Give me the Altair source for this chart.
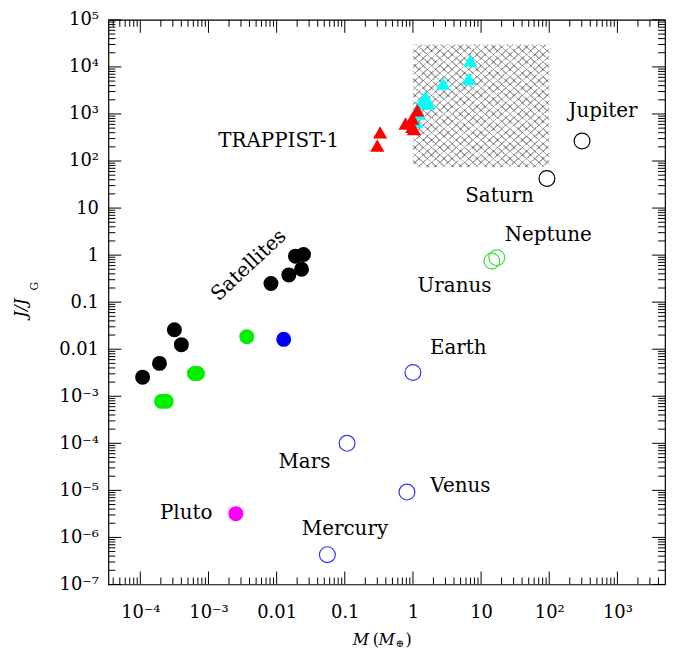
import altair as alt
import pandas as pd

# ---------------- data ----------------
# Satellites (black: Saturn/Jupiter moons), green: Uranus/Neptune moons
sat_black_m = [1.08e-4, 1.91e-4, 3.16e-4, 4.0e-4, 8.26e-3, 0.0151, 0.0189, 0.0248, 0.0232]
sat_black_j = [2.55e-3, 5.0e-3, 0.026, 0.0125, 0.25, 0.38, 0.95, 1.03, 0.5]
sat_green_m = [2.04e-4, 2.4e-4, 6.2e-4, 6.9e-4, 3.65e-3]
sat_green_j = [7.8e-4, 7.8e-4, 3.05e-3, 3.05e-3, 0.0185]
moon_m = [0.0127]
moon_j = [0.0162]
pluto_m = [2.52e-3]
pluto_j = [3.2e-6]

terr_names = ["Mercury", "Venus", "Earth", "Mars"]
terr_m = [0.0555, 0.817, 1.0, 0.108]
terr_j = [4.3e-7, 9.2e-6, 3.2e-3, 1.0e-4]
ice_names = ["Uranus", "Neptune"]
ice_m = [14.4, 17.0]
ice_j = [0.75, 0.88]
gas_names = ["Saturn", "Jupiter"]
gas_m = [92.5, 303.0]
gas_j = [42.5, 266.0]

trap_m = [0.30, 0.33, 0.78, 0.98, 0.98, 1.03, 1.16]
trap_j = [212, 405, 627, 533, 800, 475, 1200]
cyan_m = [6.95, 6.57, 2.77, 1.53, 1.71, 1.29, 1.22, 1.10]
cyan_j = [13700, 5600, 4400, 2300, 1660, 1660, 1020, 680]

box_m = [1.0, 100.0]
box_j = [74.0, 3.0e4]

label_text = ["TRAPPIST-1", "Jupiter", "Saturn", "Neptune", "Uranus",
              "Earth", "Mars", "Venus", "Pluto", "Mercury"]
label_m = [0.0107, 614, 18.6, 96.7, 4.08, 4.62, 0.0256, 4.97, 4.7e-4, 0.1007]
label_j = [270, 1164, 17.7, 2.69, 0.221, 0.0108, 4.0e-5, 1.26e-5, 3.3e-6, 1.53e-6]
sat_label = ["Satellites"]
sat_label_m = [3.9e-3]
sat_label_j = [0.61]

x_tick_labels = ["10⁻⁴", "10⁻³", "0.01", "0.1", "1", "10", "10²", "10³"]
y_tick_labels = ["10⁻⁷", "10⁻⁶", "10⁻⁵", "10⁻⁴", "10⁻³", "0.01", "0.1",
                 "1", "10", "10²", "10³", "10⁴", "10⁵"]

XMIN, XMAX = 3.4e-5, 5000.0
YMIN, YMAX = 1e-7, 1e5
x_major = [10.0 ** k for k in range(-4, 4)]
x_minor = [m * 10.0 ** k for k in range(-5, 4) for m in range(2, 10)
           if XMIN < m * 10.0 ** k < XMAX]
y_major = [10.0 ** k for k in range(-7, 6)]
y_minor = [m * 10.0 ** k for k in range(-7, 5) for m in range(2, 10)]

# ---------------- styling ----------------
W, H = 560, 568
FONT = "DejaVu Serif"
MAJ, MIN = 13, 7

xs = alt.Scale(type="log", domain=[XMIN, XMAX], nice=False)
ys = alt.Scale(type="log", domain=[YMIN, YMAX], nice=False)

def arr_expr(labels, offset):
    items = ",".join("'" + s + "'" for s in labels)
    return "[" + items + "][round(log(datum.value)/LN10)+" + str(offset) + "]"

xaxis = alt.Axis(values=x_major, labelExpr=arr_expr(x_tick_labels, 4), ticks=False,
                 domain=False, grid=False, title=None, labelFont=FONT, labelFontSize=18,
                 labelColor="black", labelPadding=19, labelOverlap=False, labelFlush=False)
yaxis = alt.Axis(values=y_major, labelExpr=arr_expr(y_tick_labels, 7), ticks=False,
                 domain=False, grid=False, title=None, labelFont=FONT, labelFontSize=18,
                 labelColor="black", labelPadding=10, labelOverlap=False, labelFlush=False)

def X(f):
    return alt.X(f + ":Q", scale=xs, axis=xaxis)

def Y(f):
    return alt.Y(f + ":Q", scale=ys, axis=yaxis)

def df(m, j, **extra):
    d = {"m": m, "j": j}
    d.update(extra)
    return pd.DataFrame(d)

def hatch(direction, period_px=5.5, diag_px=184.0, dark="rgba(0,0,0,0.32)"):
    n = int(diag_px / period_px)
    stops = []
    for i in range(n):
        a = i / n
        b = (i + 0.2) / n
        stops += [alt.GradientStop(color=dark, offset=a),
                  alt.GradientStop(color=dark, offset=b),
                  alt.GradientStop(color="rgba(0,0,0,0)", offset=b),
                  alt.GradientStop(color="rgba(0,0,0,0)", offset=(i + 1) / n)]
    if direction == 0:
        return alt.LinearGradient(gradient="linear", stops=stops, x1=0, y1=0, x2=1, y2=1)
    return alt.LinearGradient(gradient="linear", stops=stops, x1=1, y1=0, x2=0, y2=1)

layers = []

# stippled region
box = pd.DataFrame({"x1": [box_m[0]], "x2": [box_m[1]], "y1": [box_j[0]], "y2": [box_j[1]]})
layers.append(alt.Chart(box).mark_rect(fill="white", opacity=1).encode(
    x=X("x1"), x2="x2", y=Y("y1"), y2="y2"))
for dirn in (0, 1):
    layers.append(alt.Chart(box).mark_rect(fill=hatch(dirn), opacity=1).encode(
        x=X("x1"), x2="x2", y=Y("y1"), y2="y2"))

# ticks
xmaj = pd.DataFrame({"v": x_major})
xmin = pd.DataFrame({"v": x_minor})
ymaj = pd.DataFrame({"v": y_major})
ymin = pd.DataFrame({"v": y_minor})
for d, L in [(xmaj, MAJ), (xmin, MIN)]:
    layers.append(alt.Chart(d).mark_rule(color="black", strokeWidth=1).encode(
        x=X("v"), y=alt.value(H), y2=alt.value(H - L)))
    layers.append(alt.Chart(d).mark_rule(color="black", strokeWidth=1).encode(
        x=X("v"), y=alt.value(0), y2=alt.value(L)))
for d, L in [(ymaj, MAJ), (ymin, MIN)]:
    layers.append(alt.Chart(d).mark_rule(color="black", strokeWidth=1).encode(
        y=Y("v"), x=alt.value(0), x2=alt.value(L)))
    layers.append(alt.Chart(d).mark_rule(color="black", strokeWidth=1).encode(
        y=Y("v"), x=alt.value(W), x2=alt.value(W - L)))

# open circles
for m, j, c in [(terr_m, terr_j, "#3434ff"), (ice_m, ice_j, "#3ede3e"), (gas_m, gas_j, "black")]:
    layers.append(alt.Chart(df(m, j)).mark_point(shape="circle", filled=False, size=254,
                                                  strokeWidth=1.2, color=c, opacity=1).encode(
        x=X("m"), y=Y("j")))

# filled circles
for m, j, c in [(sat_black_m, sat_black_j, "black"), (sat_green_m, sat_green_j, "#00f000"),
                (moon_m, moon_j, "#0000ff"), (pluto_m, pluto_j, "#ff00ff")]:
    layers.append(alt.Chart(df(m, j)).mark_circle(size=227, color=c, opacity=1).encode(
        x=X("m"), y=Y("j")))

# triangles
for m, j, c in [(cyan_m, cyan_j, "#00ffff"), (trap_m, trap_j, "#ff0000")]:
    layers.append(alt.Chart(df(m, j)).mark_point(shape="triangle-up", filled=True, size=205,
                                                  color=c, opacity=1).encode(
        x=X("m"), y=Y("j")))

# labels
layers.append(alt.Chart(df(label_m, label_j, t=label_text)).mark_text(
    font=FONT, fontSize=20, align="center", baseline="middle", color="black").encode(
    x=X("m"), y=Y("j"), text="t:N"))
layers.append(alt.Chart(df(sat_label_m, sat_label_j, t=sat_label)).mark_text(
    font=FONT, fontSize=20, align="center", baseline="middle", color="black", angle=317).encode(
    x=X("m"), y=Y("j"), text="t:N"))

# axis titles (built from pieces for italics / subscripts)
one = alt.Data(values=[{}])
def piece(txt, x, y, size, italic=False, angle=0):
    kw = dict(font=FONT, fontSize=size, align="center", baseline="middle", color="black")
    if italic:
        kw["fontStyle"] = "italic"
    if angle:
        kw["angle"] = angle
    return alt.Chart(one).mark_text(**kw).encode(
        x=alt.value(x), y=alt.value(y), text=alt.value(txt))

layers += [
    piece("M", 254, 624, 16, italic=True),
    piece("(", 269, 624, 16),
    piece("M", 280, 624, 16, italic=True),
    piece("⊕", 293, 628, 10),
    piece(")", 302, 624, 16),
    piece("J/J", -88, 290, 17, italic=True, angle=270),
    piece("G", -74, 268, 11, angle=270),
]

chart = alt.layer(*layers).properties(
    width=W, height=H,
    padding={"left": 4, "top": 1, "right": 5, "bottom": 0},
    background="white",
).configure_view(stroke="black", strokeWidth=1.2)

chart.save("out.html", embed_options={"renderer": "svg", "actions": False})
